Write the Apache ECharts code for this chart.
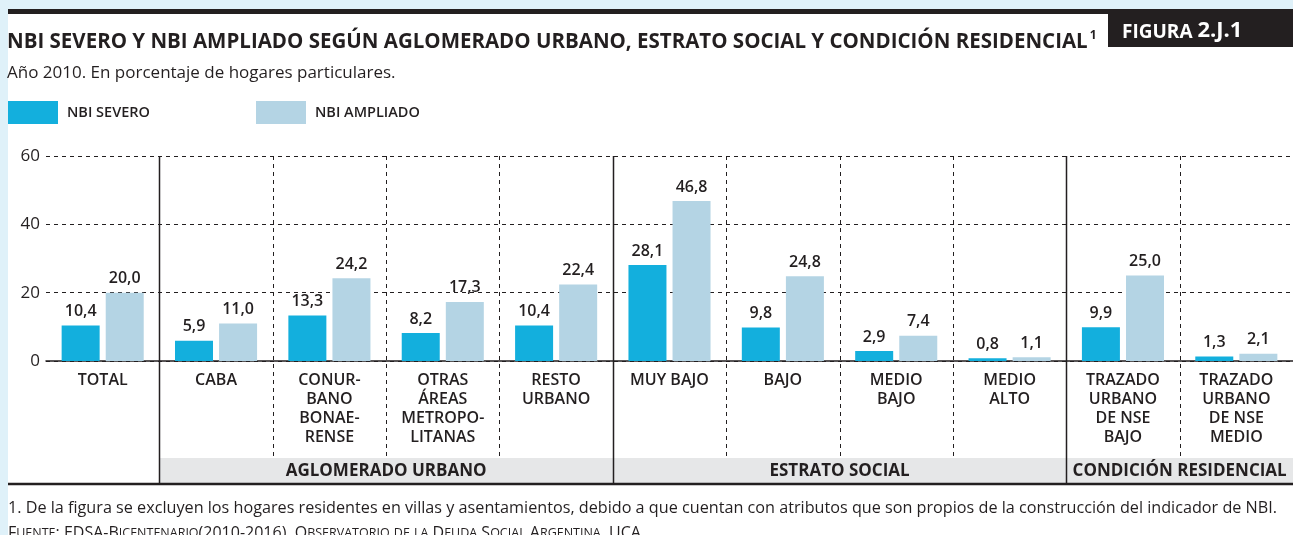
<!DOCTYPE html>
<html lang="es">
<head>
    <meta charset="UTF-8">
    <title>Figura 2.J.1</title>
    <script type="text/javascript" src="https://cdn.jsdelivr.net/npm/echarts@6/dist/echarts.min.js"></script>
    <style>
        html, body { margin: 0; padding: 0; background: #fff; }
    </style>
</head>
<body>
    <div id="container" style="width:1293px;height:535px"></div>

    <script type="text/javascript">
        // datos
        var categorias = ['TOTAL', 'CABA', 'CONUR-\nBANO\nBONAE-\nRENSE', 'OTRAS\nÁREAS\nMETROPO-\nLITANAS',
            'RESTO\nURBANO', 'MUY BAJO', 'BAJO', 'MEDIO\nBAJO', 'MEDIO\nALTO',
            'TRAZADO\nURBANO\nDE NSE\nBAJO', 'TRAZADO\nURBANO\nDE NSE\nMEDIO'];
        var nbiSevero = [10.4, 5.9, 13.3, 8.2, 10.4, 28.1, 9.8, 2.9, 0.8, 9.9, 1.3];
        var nbiAmpliado = [20.0, 11.0, 24.2, 17.3, 22.4, 46.8, 24.8, 7.4, 1.1, 25.0, 2.1];
        var ticksY = [0, 20, 40, 60];
        // grupos: nombre, primera y última categoría
        var grupos = [
            ['AGLOMERADO URBANO', 1, 4],
            ['ESTRATO SOCIAL', 5, 8],
            ['CONDICIÓN RESIDENCIAL', 9, 10]
        ];

        var tinta = '#231f20';
        var fuente = 'Open Sans';

        var dom = document.getElementById("container");
        var myChart = echarts.init(dom, null, {renderer: 'canvas'});

        function etiqueta(p) {
            return p.value.toFixed(1).replace('.', ',');
        }

        // versalitas: mayúsculas grandes, minúsculas como mayúsculas chicas
        function versalitas(txt) {
            var out = '';
            for (var i = 0; i < txt.length; i++) {
                var ch = txt[i];
                if (ch === '{' || ch === '}' || ch === '|') continue;
                var chica = ch !== ch.toUpperCase();
                out += '{' + (chica ? 'p' : 'g') + '|' + ch.toUpperCase() + '}';
            }
            return out;
        }

        var option = {
            animation: false,
            textStyle: { fontFamily: fuente, color: tinta },
            title: {
                text: '{t|NBI SEVERO Y NBI AMPLIADO SEGÚN AGLOMERADO URBANO, ESTRATO SOCIAL Y CONDICIÓN RESIDENCIAL}{s|1}',
                subtext: 'Año 2010. En porcentaje de hogares particulares.',
                left: 7, top: 30, itemGap: 12, padding: 0,
                textStyle: {
                    rich: {
                        t: { fontFamily: fuente, fontWeight: 'bold', fontSize: 20.5, color: tinta },
                        s: { fontFamily: fuente, fontWeight: 'bold', fontSize: 12, color: tinta, verticalAlign: 'top', padding: [0, 0, 12, 2] }
                    }
                },
                subtextStyle: { fontFamily: fuente, fontSize: 17, color: tinta }
            },
            legend: [
                { data: ['NBI SEVERO'], left: 8, top: 101, padding: 0, icon: 'rect', itemWidth: 50, itemHeight: 23,
                  textStyle: { fontFamily: fuente, fontSize: 14.5, fontWeight: 600, color: tinta, padding: [0, 0, 0, 4] } },
                { data: ['NBI AMPLIADO'], left: 256, top: 101, padding: 0, icon: 'rect', itemWidth: 50, itemHeight: 23,
                  textStyle: { fontFamily: fuente, fontSize: 14.5, fontWeight: 600, color: tinta, padding: [0, 0, 0, 4] } }
            ],
            grid: { left: 46, right: 0, top: 156, bottom: 174, containLabel: false },
            xAxis: {
                type: 'category',
                data: categorias,
                axisLine: { lineStyle: { color: tinta, width: 1.5 } },
                axisTick: { show: false },
                axisLabel: {
                    interval: 0, margin: 10, fontSize: 16, lineHeight: 19, fontWeight: 600,
                    fontFamily: fuente, color: tinta, verticalAlign: 'top'
                }
            },
            yAxis: {
                type: 'value', min: 0, max: 60, interval: 20,
                axisLine: { show: false },
                axisTick: { show: false },
                axisLabel: {
                    fontSize: 17, color: tinta, margin: 6,
                    formatter: function (v) { return ticksY.indexOf(v) >= 0 ? String(v) : ''; }
                },
                splitLine: { lineStyle: { color: tinta, type: [4, 4], width: 1 } }
            },
            series: [
                {
                    name: 'NBI SEVERO', type: 'bar', data: nbiSevero,
                    barWidth: 38, barGap: '16%',
                    itemStyle: { color: '#13afdd' },
                    label: { show: true, position: 'top', distance: 6, formatter: etiqueta,
                        fontSize: 16, fontWeight: 600, color: tinta, fontFamily: fuente }
                },
                {
                    name: 'NBI AMPLIADO', type: 'bar', data: nbiAmpliado,
                    barWidth: 38,
                    itemStyle: { color: '#b4d4e4' },
                    label: { show: true, position: 'top', distance: 6, formatter: etiqueta,
                        fontSize: 16, fontWeight: 600, color: tinta, fontFamily: fuente }
                }
            ]
        };
        myChart.setOption(option, true);

        // divisiones y bandas calculadas desde el eje
        var c0 = myChart.convertToPixel({xAxisIndex: 0}, 0);
        var c1 = myChart.convertToPixel({xAxisIndex: 0}, 1);
        var banda = c1 - c0;
        var yTop = myChart.convertToPixel({yAxisIndex: 0}, 60);
        var yCero = myChart.convertToPixel({yAxisIndex: 0}, 0);
        var yEtiq = yCero + 97;
        var yBanda = yEtiq + 25;
        var xFin = c0 - banda / 2 + banda * categorias.length;
        function borde(i) { return c0 - banda / 2 + banda * i; }

        var graficos = [
            { type: 'rect', shape: { x: 0, y: 0, width: 1293, height: 9 }, style: { fill: '#dff1f9' }, silent: true },
            { type: 'rect', shape: { x: 0, y: 0, width: 8, height: 535 }, style: { fill: '#dff1f9' }, silent: true },
            { type: 'rect', shape: { x: 8, y: 9, width: 1285, height: 5 }, style: { fill: '#231f20' } },
            { type: 'rect', shape: { x: 1108, y: 14, width: 185, height: 33 }, style: { fill: '#231f20' } },
            { type: 'text', x: 1122, y: 31, style: {
                text: '{a|FIGURA }{b|2.J.1}', textVerticalAlign: 'middle',
                rich: {
                    a: { fill: '#fff', fontFamily: fuente, fontWeight: 'bold', fontSize: 19, verticalAlign: 'bottom' },
                    b: { fill: '#fff', fontFamily: fuente, fontWeight: 'bold', fontSize: 22, verticalAlign: 'bottom' }
                } } },
            { type: 'rect', shape: { x: borde(1), y: yEtiq, width: xFin - borde(1), height: yBanda - yEtiq },
              style: { fill: '#e6e7e8' }, z: -1 },
            { type: 'line', shape: { x1: 8, y1: yBanda + 1, x2: 1293, y2: yBanda + 1 },
              style: { stroke: tinta, lineWidth: 2.5 } },
            { type: 'text', x: 8, y: 508, style: { text: '1. De la figura se excluyen los hogares residentes en villas y asentamientos, debido a que cuentan con atributos que son propios de la construcción del indicador de NBI.',
                fill: tinta, font: '16.2px "' + fuente + '"', textVerticalAlign: 'middle' } },
            { type: 'text', x: 8, y: 533, style: {
                text: versalitas('Fuente: EDSA-Bicentenario(2010-2016). Observatorio de la Deuda Social Argentina, UCA.'),
                textVerticalAlign: 'middle',
                rich: {
                    g: { fill: tinta, fontFamily: fuente, fontSize: 16 },
                    p: { fill: tinta, fontFamily: fuente, fontSize: 12.5 }
                } } }
        ];

        var solidos = grupos.map(function (g) { return g[1]; });
        for (var i = 1; i < categorias.length; i++) {
            var x = Math.round(borde(i)) + 0.5;
            var solido = solidos.indexOf(i) >= 0;
            graficos.push({
                type: 'line', z: 5,
                shape: { x1: x, y1: yTop, x2: x, y2: solido ? yBanda : yEtiq },
                style: { stroke: tinta, lineWidth: solido ? 1.5 : 1, lineDash: solido ? null : [4, 4] }
            });
        }
        grupos.forEach(function (g) {
            graficos.push({
                type: 'text', x: (borde(g[1]) + borde(g[2] + 1)) / 2, y: (yEtiq + yBanda) / 2 + 1,
                style: { text: g[0], fill: tinta, font: 'bold 17px "' + fuente + '"',
                    textAlign: 'center', textVerticalAlign: 'middle' }
            });
        });

        myChart.setOption({ graphic: graficos });
    </script>
</body>
</html>
